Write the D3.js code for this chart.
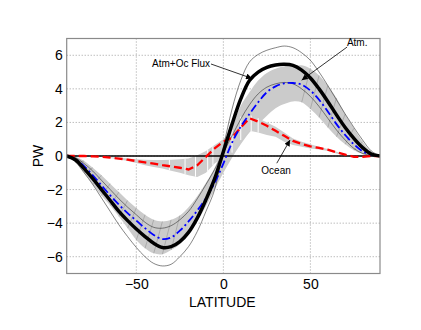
<!DOCTYPE html>
<html>
<head>
<meta charset="utf-8">
<script src="https://cdn.jsdelivr.net/npm/d3@7"></script>
<style>
  body { margin: 0; background: #fff; }
  svg { display: block; font-family: Arial, 'Liberation Sans', sans-serif; }
</style>
</head>
<body>
<svg id="chart" width="421" height="330"></svg>
<script>
// latitude grid of the curves
const lats = [-90, -85, -80, -75, -70, -65, -60, -55, -50, -45, -40, -35, -30, -25, -20, -15, -10, -5,
  0, 5, 10, 15, 20, 25, 30, 35, 40, 45, 50, 55, 60, 65, 70, 75, 80, 85, 90];

// total atm+ocean flux (thick black)
const total = [0, -0.22, -0.75, -1.35, -2.0, -2.65, -3.3, -3.85, -4.35, -4.8, -5.2, -5.45, -5.4, -5.1, -4.55, -3.7, -2.6, -1.35,
  0.25, 1.9, 3.4, 4.5, 5.0, 5.28, 5.42, 5.46, 5.4, 5.12, 4.65, 4.0, 3.25, 2.45, 1.7, 1.05, 0.5, 0.12, 0];
// atmosphere (blue dash-dot)
const atm = [0, -0.2, -0.6, -1.15, -1.75, -2.35, -2.9, -3.4, -3.85, -4.3, -4.7, -4.95, -4.85, -4.45, -3.9, -3.25, -2.5, -1.6,
  -0.45, 0.8, 1.75, 2.5, 3.2, 3.8, 4.15, 4.33, 4.35, 4.25, 3.9, 3.35, 2.65, 1.9, 1.25, 0.7, 0.28, 0.08, 0];
// ocean (red dashed)
const ocean = [0, 0, 0, -0.02, -0.05, -0.1, -0.15, -0.22, -0.3, -0.38, -0.45, -0.55, -0.62, -0.7, -0.8, -0.55, -0.05, 0.45,
  0.85, 1.1, 1.7, 2.25, 2.05, 1.8, 1.5, 1.2, 0.9, 0.72, 0.58, 0.48, 0.38, 0.22, 0.08, -0.05, -0.05, 0, 0];
// thin bounding curves
const thinHi = [0, -0.35, -1.0, -1.7, -2.5, -3.3, -4.1, -4.8, -5.45, -6.0, -6.4, -6.55, -6.45, -6.0, -5.4, -4.5, -3.3, -2.0,
  0.5, 2.8, 4.5, 5.6, 6.05, 6.3, 6.45, 6.55, 6.45, 6.15, 5.7, 5.0, 4.2, 3.35, 2.5, 1.7, 0.95, 0.3, 0];
const thinLo = [0, -0.1, -0.45, -0.9, -1.45, -2.0, -2.55, -3.05, -3.5, -3.95, -4.25, -4.3, -4.15, -3.8, -3.3, -2.55, -1.7, -0.8,
  0.2, 1.2, 2.2, 3.05, 3.7, 4.1, 4.3, 4.38, 4.3, 4.0, 3.55, 2.95, 2.25, 1.55, 0.95, 0.45, 0.15, 0.03, 0];
// atmospheric uncertainty band (grey)
const bandLo = [0, -0.35, -1.0, -1.7, -2.35, -2.95, -3.6, -4.3, -5.0, -5.5, -5.8, -5.85, -5.6, -5.25, -4.65, -3.9, -3.0, -2.0,
  -1.0, -0.1, 0.7, 1.4, 1.9, 2.4, 2.85, 3.1, 3.25, 3.2, 2.8, 2.3, 1.7, 1.15, 0.7, 0.35, 0.12, 0.02, 0];
const bandHi = [0, -0.05, -0.3, -0.7, -1.15, -1.65, -2.15, -2.65, -3.1, -3.5, -3.8, -3.9, -3.8, -3.55, -3.05, -2.4, -1.6, -0.7,
  0.6, 1.8, 3.0, 3.8, 4.5, 4.95, 5.2, 5.35, 5.35, 5.4, 5.2, 4.8, 4.2, 3.45, 2.5, 1.65, 0.85, 0.25, 0];
// ocean uncertainty band (grey, hatched)
const oceanLats = [-65, -60, -55, -50, -45, -40, -35, -30, -25, -20, -15, -10, -5, 0,
  5, 10, 15, 20, 25, 30, 35, 40, 45, 50, 55, 60, 65, 70];
const oceanLo = [-0.12, -0.2, -0.3, -0.42, -0.55, -0.65, -0.75, -0.88, -1.0, -1.15, -1.25, -1.0, -0.45, -0.1,
  0.2, 0.95, 1.5, 1.4, 1.25, 1.15, 0.85, 0.65, 0.55, 0.45, 0.38, 0.3, 0.15, 0.05];
const oceanHi = [-0.08, -0.1, -0.15, -0.2, -0.22, -0.24, -0.24, -0.22, -0.2, -0.15, 0.05, 0.3, 0.65, 1.0,
  1.55, 2.35, 2.45, 2.25, 2.0, 1.75, 1.4, 1.05, 0.85, 0.7, 0.55, 0.42, 0.25, 0.1];
const oceanCuts = [-31, -22, -16, -9, -6, 5, 10, 16, 20];

// axes
const xTicks = [-50, 0, 50];
const yTicks = [-6, -4, -2, 0, 2, 4, 6];

// annotations: text, text position, arrow start, arrow end (data units)
const labels = ['Atm+Oc Flux', 'Atm.', 'Ocean'];
const labelAt = [[-24.3, 5.5], [76.9, 6.74], [30.3, -0.88]];
const arrowFrom = [[-7.1, 5.48], [71.1, 6.49], [30.7, -0.43]];
const arrowTo = [[16.5, 4.62], [45, 4.52], [38.3, 0.95]];

const svg = d3.select('#chart');
const margin = { top: 38.5, right: 41, bottom: 56.5, left: 66.7 };
const width = +svg.attr('width') - margin.left - margin.right;
const height = +svg.attr('height') - margin.top - margin.bottom;

const defs = svg.append('defs');
defs.append('clipPath').attr('id', 'clip')
  .append('rect').attr('width', width).attr('height', height);
defs.append('marker')
  .attr('id', 'head')
  .attr('viewBox', '0 0 10 10')
  .attr('refX', 10).attr('refY', 5)
  .attr('markerWidth', 7).attr('markerHeight', 6)
  .attr('markerUnits', 'userSpaceOnUse')
  .attr('orient', 'auto')
  .append('path').attr('d', 'M0,0L10,5L0,10z').attr('fill', '#000');

const g = svg.append('g').attr('transform', `translate(${margin.left},${margin.top})`);

const x = d3.scaleLinear().domain([-90, 90]).range([0, width]);
const y = d3.scaleLinear().domain([-7, 7]).range([height, 0]);

// grid
g.append('g').selectAll('line').data(xTicks).join('line')
  .attr('x1', d => x(d)).attr('x2', d => x(d))
  .attr('y1', 0).attr('y2', height)
  .attr('stroke', '#888').attr('stroke-width', 0.8).attr('stroke-dasharray', '1,2');
g.append('g').selectAll('line').data(yTicks).join('line')
  .attr('x1', 0).attr('x2', width)
  .attr('y1', d => y(d)).attr('y2', d => y(d))
  .attr('stroke', '#888').attr('stroke-width', 0.8).attr('stroke-dasharray', '1,2');

const plot = g.append('g').attr('clip-path', 'url(#clip)');

const smooth = d3.curveCatmullRom.alpha(0.5);
const band = d3.area()
  .x((d, i) => x(lats[i]))
  .y0((d, i) => y(bandLo[i]))
  .y1((d, i) => y(bandHi[i]))
  .curve(smooth);
plot.append('path').datum(lats).attr('d', band).attr('fill', '#cbcbcb');

// mesh lines across the band (lower edge to upper edge one step further)
const meshIdx = lats.map((d, i) => i)
  .filter(i => (lats[i] > -90 && lats[i] <= -30) || (lats[i] >= 45 && lats[i] < 85));
plot.append('g').selectAll('line').data(meshIdx).join('line')
  .attr('x1', i => x(lats[i])).attr('y1', i => y(bandLo[i]))
  .attr('x2', i => x(lats[i + 1])).attr('y2', i => y(bandHi[i + 1]))
  .attr('stroke', '#8a8a8a').attr('stroke-width', 0.5);

// ocean band
const oBand = d3.area()
  .x((d, i) => x(oceanLats[i]))
  .y0((d, i) => y(oceanLo[i]))
  .y1((d, i) => y(oceanHi[i]));
plot.append('path').datum(oceanLats).attr('d', oBand).attr('fill', '#cdcdcd');
const oLo = d3.scaleLinear().domain(oceanLats).range(oceanLo);
const oHi = d3.scaleLinear().domain(oceanLats).range(oceanHi);
plot.append('g').selectAll('line').data(oceanCuts).join('line')
  .attr('x1', d => x(d)).attr('x2', d => x(d))
  .attr('y1', d => y(oLo(d))).attr('y2', d => y(oHi(d)))
  .attr('stroke', '#fff').attr('stroke-width', 1);

const lineOf = (vals, curve) => d3.line()
  .x((d, i) => x(lats[i]))
  .y((d, i) => y(vals[i]))
  .curve(curve)(lats);

// thin bounds
[thinHi, thinLo].forEach(vals => {
  plot.append('path').attr('d', lineOf(vals, smooth))
    .attr('fill', 'none').attr('stroke', '#333').attr('stroke-width', 0.6);
});

// zero line
plot.append('line')
  .attr('x1', 0).attr('x2', width)
  .attr('y1', y(0)).attr('y2', y(0))
  .attr('stroke', '#000').attr('stroke-width', 1.5);

// ocean
plot.append('path').attr('d', lineOf(ocean, d3.curveLinear))
  .attr('fill', 'none').attr('stroke', '#ff0000').attr('stroke-width', 2.3)
  .attr('stroke-dasharray', '8,4');
// atmosphere
plot.append('path').attr('d', lineOf(atm, smooth))
  .attr('fill', 'none').attr('stroke', '#0000ff').attr('stroke-width', 1.8)
  .attr('stroke-dasharray', '8,3,2,3');
// total
plot.append('path').attr('d', lineOf(total, smooth))
  .attr('fill', 'none').attr('stroke', '#000').attr('stroke-width', 3.5)
  .attr('stroke-linejoin', 'round');

// frame
g.append('rect').attr('width', width).attr('height', height)
  .attr('fill', 'none').attr('stroke', '#8a8a8a').attr('stroke-width', 1.2);

// axes labels
const xAxis = g.append('g').attr('transform', `translate(0,${height})`)
  .call(d3.axisBottom(x).tickValues(xTicks).tickSize(0).tickPadding(6).tickFormat(d3.format('d')));
const yAxis = g.append('g')
  .call(d3.axisLeft(y).tickValues(yTicks).tickSize(0).tickPadding(4).tickFormat(d3.format('d')));
[xAxis, yAxis].forEach(a => {
  a.select('.domain').remove();
  a.selectAll('text').attr('font-size', 14).attr('fill', '#000')
    .attr('font-family', "Arial, 'Liberation Sans', sans-serif");
});

svg.append('text')
  .attr('x', margin.left + width / 2 - 1).attr('y', 307)
  .attr('text-anchor', 'middle').attr('font-size', 14).text('LATITUDE');
svg.append('text')
  .attr('transform', `translate(43,${margin.top + y(0)}) rotate(-90)`)
  .attr('text-anchor', 'middle').attr('font-size', 14).text('PW');

// annotations
labels.forEach((t, i) => {
  g.append('line')
    .attr('x1', x(arrowFrom[i][0])).attr('y1', y(arrowFrom[i][1]))
    .attr('x2', x(arrowTo[i][0])).attr('y2', y(arrowTo[i][1]))
    .attr('stroke', '#000').attr('stroke-width', 0.8)
    .attr('marker-end', 'url(#head)');
  g.append('text')
    .attr('x', x(labelAt[i][0])).attr('y', y(labelAt[i][1]))
    .attr('dy', '0.35em').attr('text-anchor', 'middle')
    .attr('font-size', 10).text(t);
});
</script>
</body>
</html>
